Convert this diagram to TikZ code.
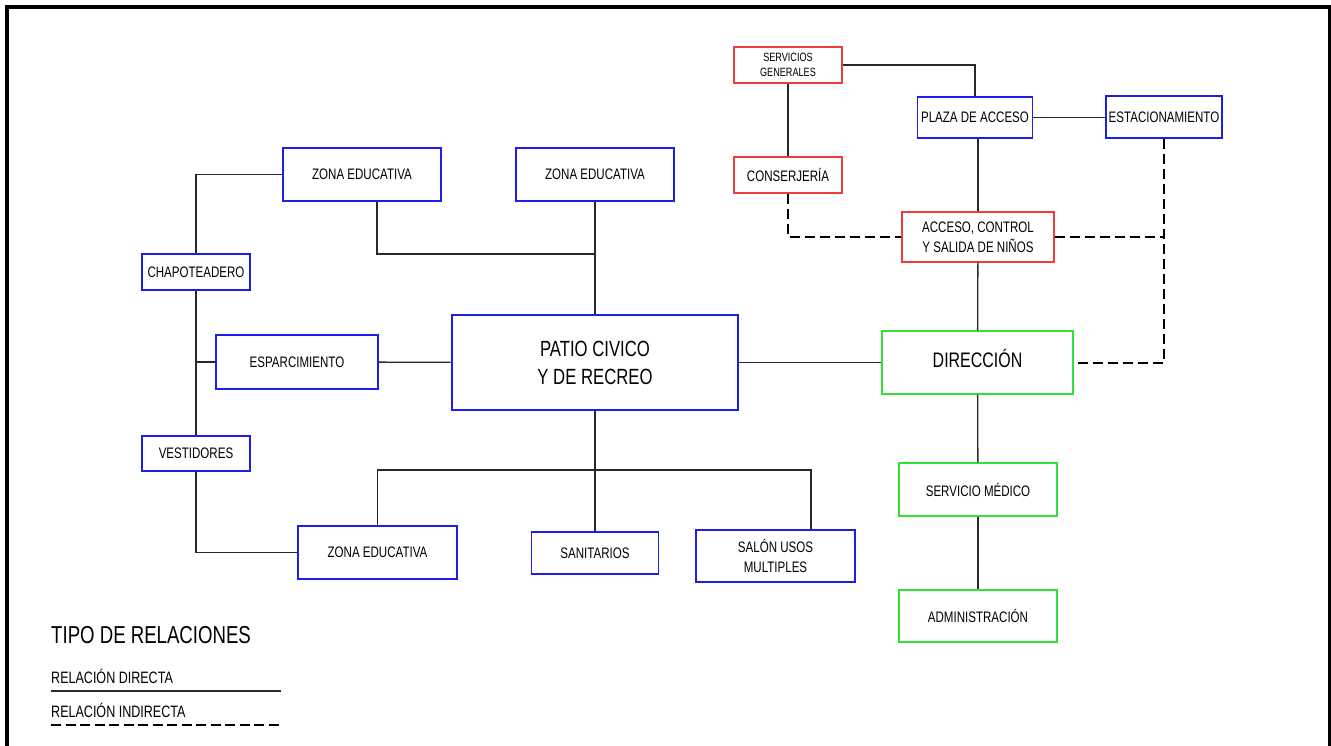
\documentclass[tikz,border=0pt]{standalone}
\usepackage{fontspec}
\setmainfont{Liberation Sans}[FakeStretch=0.76]
\usepackage{xcolor}
\usetikzlibrary{positioning}
\definecolor{zblue}{RGB}{30,30,235}
\definecolor{zred}{RGB}{240,60,60}
\definecolor{zgreen}{RGB}{50,225,50}
\definecolor{zline}{RGB}{40,40,40}
\tikzset{
    box/.style={draw, line width=1.4pt, inner sep=0pt, align=center, font=\fontsize{15.2}{20}\selectfont},
    bluebox/.style={box, draw=zblue},
    redbox/.style={box, draw=zred},
    greenbox/.style={box, draw=zgreen},
    rel/.style={draw=zline, line width=1.3pt},
    indrel/.style={draw=black, line width=2pt, dash pattern=on 10pt off 5pt}
}

\begin{document}
\begin{tikzpicture}[x=1pt, y=-1pt]
                \useasboundingbox (0,0) rectangle (1331,746);
                \draw[line width=4pt] (7,760) -- (7,7) -- (1329.5,7) -- (1329.5,760);

                \node[redbox, minimum width=108, minimum height=36, font=\fontsize{12}{15}\selectfont] (SG) at (788,65) {SERVICIOS\\GENERALES};
                \node[bluebox, minimum width=115, minimum height=41] (PA) at (975,117.5) {PLAZA DE ACCESO};
                \node[bluebox, minimum width=116, minimum height=42] (EST) at (1164,117) {ESTACIONAMIENTO};
                \node[redbox, minimum width=108, minimum height=36] (CJ) at (788,175) {CONSERJERÍA};
                \node[redbox, minimum width=152, minimum height=50] (ACS) at (978,237) {ACCESO, CONTROL\\Y SALIDA DE NIÑOS};
                \node[greenbox, minimum width=191, minimum height=63, text height=15, text depth=5, font=\fontsize{21}{26}\selectfont] (DIR) at (977.5,362.5) {DIRECCIÓN};
                \node[greenbox, minimum width=158, minimum height=53] (SM) at (978,489.5) {SERVICIO MÉDICO};
                \node[greenbox, minimum width=158, minimum height=52] (ADM) at (978,616) {ADMINISTRACIÓN};

                \node[bluebox, minimum width=158, minimum height=53] (ZE1) at (362,174.5) {ZONA EDUCATIVA};
                \node[bluebox, minimum width=158, minimum height=53] (ZE2) at (595,174.5) {ZONA EDUCATIVA};
                \node[bluebox, minimum width=108, minimum height=36] (CHP) at (196,272) {CHAPOTEADERO};
                \node[bluebox, line width=2.4pt, minimum width=162, minimum height=54] (ESP) at (297,362) {ESPARCIMIENTO};
                \node[bluebox, line width=2.6pt, minimum width=286, minimum height=95, font=\fontsize{22}{28}\selectfont] (PCR) at (595,362.5) {PATIO CIVICO\\Y DE RECREO};
                \node[bluebox, minimum width=108, minimum height=35] (VES) at (196,453.5) {VESTIDORES};
                \node[bluebox, minimum width=159, minimum height=53] (ZE3) at (377.5,552.5) {ZONA EDUCATIVA};
                \node[bluebox, minimum width=127, minimum height=42] (SAN) at (595,553) {SANITARIOS};
                \node[bluebox, minimum width=159, minimum height=52] (SUM) at (775.5,556) {SALÓN USOS\\MULTIPLES};

                \coordinate (JT) at (595,254);
                \coordinate (JB) at (595,470);

                \draw[rel] (SG.east) -| (PA.north);
                \draw[rel] (SG) -- (CJ);
                \draw[rel] (PA.east) -- (PA.east -| EST.west);
                \draw[rel] (ACS.north |- PA.south) -- (ACS.north);
                \draw[rel] (ACS) -- (DIR);
                \draw[rel] (DIR) -- (SM);
                \draw[rel] (SM) -- (ADM);
                \draw[indrel] (CJ.south) |- (ACS.west);
                \draw[indrel] (ACS.east) -- (ACS.east -| EST.south);
                \draw[indrel] (EST.south) |- (DIR.east);

                \draw[rel] (PCR) -- (DIR);
                \draw[rel] (PCR) -- (ESP);
                \draw[rel] (PCR) -- (ZE2);
                \draw[rel] ([xshift=15pt]ZE1.south) |- (JT);
                \draw[rel] (PCR) -- (SAN);
                \draw[rel] (ZE3.north) |- (JB) -| ([xshift=35.5pt]SUM.north);
                \draw[rel] (ZE1.west) -| (CHP.north);
                \draw[rel] (CHP) -- (VES);
                \draw[rel] (ESP.west) -- (ESP.west -| CHP.south);
                \draw[rel] (VES.south) |- (ZE3.west);

                \node[anchor=base west, inner sep=0pt, font=\fontsize{24.5}{28}\selectfont] (TR) at (51,643) {TIPO DE RELACIONES};
                \node[anchor=base west, inner sep=0pt, font=\fontsize{16.5}{18}\selectfont] (RD) at (51,683) {RELACIÓN DIRECTA};
                \node[anchor=base west, inner sep=0pt, font=\fontsize{16.5}{18}\selectfont] (RI) at (51,717) {RELACIÓN INDIRECTA};
                \coordinate (RDE) at (281,691);
                \coordinate (RIE) at (281,725);
                \draw[rel] (RD.base west |- RDE) -- (RDE);
                \draw[indrel, line width=1.6pt, dash pattern=on 10pt off 4.5pt] (RI.base west |- RIE) -- (RIE);
            \end{tikzpicture}
\end{document}
